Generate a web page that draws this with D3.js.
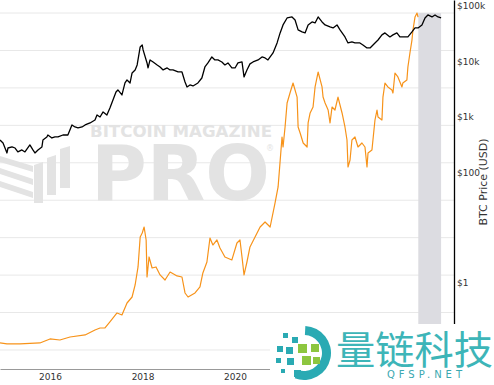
<!DOCTYPE html>
<meta charset="utf-8">

<!-- Load d3.js -->
<script src="https://d3js.org/d3.v7.min.js"></script>
<style>
  body { margin: 0; background: #fff; }
</style>

<div id="my_dataviz"></div>

<script>

// BTC price, USD (black line, right axis)
var btcDates = ["2014-12-02","2014-12-26","2015-01-26","2015-02-03","2015-03-07","2015-03-31","2015-04-22","2015-05-24","2015-06-17","2015-07-26","2015-08-19","2015-09-04","2015-09-28","2015-10-29","2015-11-06","2015-12-07","2015-12-15",
  "2016-01-16","2016-02-09","2016-03-04","2016-04-12","2016-05-21","2016-06-22","2016-07-16","2016-08-09","2016-09-10","2016-10-04","2016-11-12","2016-12-21",
  "2017-01-06","2017-01-30","2017-02-23","2017-03-25","2017-04-18","2017-05-12","2017-06-05","2017-06-20","2017-07-22","2017-08-15","2017-08-31","2017-09-24","2017-10-10","2017-11-03","2017-11-19","2017-12-13","2017-12-29",
  "2018-01-05","2018-02-05","2018-02-13","2018-03-01","2018-03-25","2018-04-26","2018-05-19","2018-06-12","2018-07-14","2018-08-06","2018-08-29","2018-10-08","2018-11-08","2018-12-02","2018-12-18",
  "2019-01-10","2019-02-03","2019-03-14","2019-04-14","2019-05-08","2019-06-01","2019-07-02","2019-07-26","2019-08-19","2019-09-19","2019-10-13","2019-11-06","2019-12-07",
  "2020-01-01","2020-01-24","2020-02-25","2020-03-12","2020-04-04","2020-04-28","2020-05-22","2020-07-01","2020-08-01","2020-08-25","2020-09-17","2020-10-27","2020-11-28","2020-12-22",
  "2021-01-14","2021-02-15","2021-03-26","2021-04-19","2021-05-13","2021-06-13","2021-07-07","2021-07-31","2021-08-31","2021-09-24","2021-10-18","2021-11-18","2021-12-12",
  "2022-01-20","2022-02-13","2022-03-16","2022-04-09","2022-05-18","2022-06-11","2022-07-12","2022-08-05","2022-09-13","2022-10-07","2022-11-08","2022-12-02",
  "2023-01-10","2023-02-03","2023-03-06","2023-03-30","2023-05-08","2023-06-01","2023-07-02","2023-07-26","2023-08-18","2023-09-27","2023-10-29","2023-11-22","2023-12-16",
  "2024-01-16","2024-02-09","2024-03-03","2024-04-04","2024-04-28","2024-05-22","2024-06-15"];
var btcPrices = [381,336,222,273,285,273,232,252,232,310,252,222,252,285,381,432,469,
  414,432,432,469,469,711,654,628,654,711,773,875,
  1077,991,1222,1077,1442,2010,2805,3048,2476,4074,4613,4074,6180,7000,8610,18200,19770,
  16070,9360,7600,10600,9750,8610,7920,7000,7600,7000,7000,6440,6440,4250,3450,
  3750,3600,4074,5010,7920,9360,12000,10600,10600,9750,8610,9360,7600,
  7600,9360,9750,5230,7000,9000,9750,10600,12000,11520,10600,14180,21500,32600,
  45400,60700,63300,55900,36900,34000,32600,45400,51400,49300,63300,51400,45400,
  41800,40100,45400,36900,27600,21500,22400,21500,21500,19770,17450,17450,
  21500,24300,30000,32600,27600,30000,32600,27600,27600,27600,34000,40100,40100,
  45400,60700,68800,63300,68800,63300,60700];

// orange series on the hidden left (log) axis
var metricDates = ["2014-12-02","2015-01-26","2015-05-08","2015-10-13","2016-01-01","2016-03-19","2016-06-07","2016-10-04","2016-12-21",
  "2017-01-30","2017-03-10","2017-04-18","2017-06-13","2017-07-22","2017-08-31","2017-10-10","2017-11-03","2017-11-26","2017-12-13","2017-12-29",
  "2018-01-13","2018-01-29","2018-02-05","2018-02-21","2018-03-17","2018-04-17","2018-05-19","2018-06-27","2018-08-06","2018-09-30","2018-11-08","2018-12-02","2018-12-26",
  "2019-02-19","2019-03-30","2019-04-22","2019-05-24","2019-06-17","2019-07-10","2019-08-11","2019-09-04","2019-10-13","2019-12-07",
  "2020-01-16","2020-02-09","2020-02-25","2020-03-12","2020-04-04","2020-04-28","2020-07-17","2020-08-25","2020-10-04","2020-11-12","2020-12-06",
  "2021-01-06","2021-01-14","2021-01-30","2021-02-15","2021-03-10","2021-04-03","2021-05-05","2021-05-13","2021-05-29","2021-06-22","2021-07-23","2021-07-31","2021-08-16","2021-09-08","2021-09-24","2021-10-18","2021-11-18","2021-11-26","2021-12-12",
  "2022-01-05","2022-01-20","2022-02-05","2022-02-28","2022-03-24","2022-04-25","2022-05-18","2022-06-03","2022-06-11","2022-06-27","2022-07-12","2022-08-05","2022-08-29","2022-09-29","2022-10-23","2022-11-08","2022-11-16","2022-12-17","2022-12-25",
  "2023-01-10","2023-01-26","2023-02-03","2023-03-06","2023-03-14","2023-03-30","2023-04-22","2023-05-24","2023-06-01","2023-06-17","2023-07-10","2023-08-11","2023-08-18","2023-09-19","2023-09-27","2023-10-13","2023-10-29","2023-11-06","2023-11-22","2023-12-08","2023-12-16"];
var metricValues = [1.54,1.45,1.45,1.54,1.97,1.85,2.22,2.52,3.42,
  3.87,3.87,5.6,9.73,8.61,18,26,54.5,165,1042,1334,
  1928,867,89,305,155,165,101,74,121,95,89,33.3,26,
  33.3,48.2,114,224,980,637,867,530,305,254,
  721,867,305,101,224,564,1928,2624,1928,8440,22600,
  489000,264000,904000,3.96e6,7.3e6,1.35e7,5.7e6,904000,625000,338000,264000,1.16e6,2.14e6,3.09e6,1.06e7,2.66e7,1.06e7,5.7e6,3.96e6,
  2.57e6,1.16e6,3.09e6,2.57e6,5.7e6,2.14e6,904000,406000,77200,119000,406000,489000,264000,338000,264000,77200,183000,220000,406000,
  1.39e6,2.57e6,1.67e6,1.39e6,5.7e6,1.35e7,1.06e7,8.8e6,7.3e6,2.5e7,1.96e7,1.06e7,1.35e7,1.63e7,3.62e7,8.57e7,1.9e8,3.52e8,7.8e8,1.0e9,7.8e8];

var xDomain = ["2014-12-02", "2024-09-25"];
// 2022 and 2024 sit under the site logo in the original, so only these show
var xTickYears = [2016, 2018, 2020];
var priceDomain = [0.0269, 128000];
var priceTicks = [1, 100, 1000, 10000, 100000];
var priceTickLabels = ["$1", "$100", "$1k", "$10k", "$100k"];
var metricDomain = [0.292, 2.23e9];
var metricGrid = [1, 10, 100, 1e3, 1e4, 1e5, 1e6, 1e7, 1e8, 1e9];
var shade = ["2023-12-18", "2024-06-15"];

// set the dimensions and margins of the graph
var margin = {top: 0, right: 40, bottom: 15, left: 0},
    width = 494 - margin.left - margin.right,
    height = 385 - margin.top - margin.bottom;

var root = d3.select("#my_dataviz")
  .append("svg")
    .attr("width", 494)
    .attr("height", 385)
    .style("display", "block");

var svg = root.append("g")
    .attr("transform", "translate(" + margin.left + "," + margin.top + ")");

var parse = d3.timeParse("%Y-%m-%d");

var x = d3.scaleTime()
  .domain(xDomain.map(parse))
  .range([0, width]);

var yPrice = d3.scaleLog()
  .domain(priceDomain)
  .range([height, 0]);

var yMetric = d3.scaleLog()
  .domain(metricDomain)
  .range([height, 0]);

// gridlines (from the hidden left axis)
svg.append("g")
  .selectAll("line")
  .data(metricGrid)
  .enter()
  .append("line")
    .attr("x1", 0)
    .attr("x2", width)
    .attr("y1", function(d) { return yMetric(d); })
    .attr("y2", function(d) { return yMetric(d); })
    .attr("stroke", "#e8e8e8")
    .attr("stroke-width", 1);

// shaded period
svg.append("rect")
  .attr("x", x(parse(shade[0])))
  .attr("width", x(parse(shade[1])) - x(parse(shade[0])))
  .attr("y", yMetric(1e9))
  .attr("height", height - yMetric(1e9))
  .attr("fill", "#dcdce1");

// watermark
var wm = svg.append("g").attr("fill", "#e3e3e3");
wm.append("text")
  .attr("x", 90).attr("y", 137)
  .attr("font-family", "DejaVu Sans")
  .attr("font-weight", "bold")
  .attr("font-size", 15)
  .attr("textLength", 182)
  .attr("lengthAdjust", "spacingAndGlyphs")
  .text("BITCOIN MAGAZINE");
wm.append("text")
  .attr("x", 91).attr("y", 200)
  .attr("font-family", "DejaVu Sans")
  .attr("font-weight", "bold")
  .attr("font-size", 76)
  .attr("textLength", 179)
  .attr("lengthAdjust", "spacingAndGlyphs")
  .text("PRO");
wm.append("text")
  .attr("x", 266).attr("y", 151)
  .attr("font-family", "DejaVu Sans")
  .attr("font-size", 8)
  .text("®");
var marks = [
  "0,156 33,166 33,172 0,162",
  "0,168 33,179 33,185 0,174",
  "0,181 33,192 33,198 0,187",
  "34,165 43,162 43,203 34,203",
  "47,158 56,155 56,195 47,195",
  "60,149 70,146 70,188 60,188"
];
wm.selectAll("polygon")
  .data(marks)
  .enter()
  .append("polygon")
    .attr("points", function(d) { return d; });

// orange series
var metricLine = d3.line()
  .x(function(d) { return x(d.date); })
  .y(function(d) { return yMetric(d.value); });

var metricData = metricDates.map(function(d, i) {
  return {date: parse(d), value: metricValues[i]};
});

svg.append("path")
  .datum(metricData)
  .attr("fill", "none")
  .attr("stroke", "#f7931a")
  .attr("stroke-width", 1.2)
  .attr("stroke-linejoin", "round")
  .attr("d", metricLine);

// BTC price
var priceLine = d3.line()
  .x(function(d) { return x(d.date); })
  .y(function(d) { return yPrice(d.value); });

var priceData = btcDates.map(function(d, i) {
  return {date: parse(d), value: btcPrices[i]};
});

svg.append("path")
  .datum(priceData)
  .attr("fill", "none")
  .attr("stroke", "#000")
  .attr("stroke-width", 1.3)
  .attr("stroke-linejoin", "round")
  .attr("d", priceLine);

// X axis
var xAxis = svg.append("g")
  .attr("transform", "translate(0," + (height - 1) + ")")
  .call(d3.axisBottom(x)
    .tickValues(xTickYears.map(function(y) { return new Date(y, 0, 1); }))
    .tickFormat(d3.timeFormat("%Y"))
    .tickSize(0)
    .tickPadding(5));
xAxis.select(".domain").attr("stroke", "#999");
xAxis.selectAll("text")
  .attr("font-family", "DejaVu Sans")
  .attr("font-size", 9)
  .attr("fill", "#333");

// right axis
var yAxis = svg.append("g")
  .attr("transform", "translate(" + width + ",0)")
  .call(d3.axisRight(yPrice)
    .tickValues(priceTicks)
    .tickFormat(function(d, i) { return priceTickLabels[i]; })
    .tickSize(0)
    .tickPadding(3));
yAxis.select(".domain").attr("stroke", "#000").attr("stroke-width", 1.3);
yAxis.selectAll("text")
  .attr("font-family", "DejaVu Sans")
  .attr("font-size", 9)
  .attr("fill", "#333");

// text label for the right axis
svg.append("text")
  .attr("transform", "translate(" + (width + 33) + "," + 182 + ") rotate(-90)")
  .style("text-anchor", "middle")
  .attr("font-family", "DejaVu Sans")
  .attr("font-size", 11)
  .attr("fill", "#333")
  .text("BTC Price (USD)");

// site logo, bottom right
var logo = root.append("g");
logo.append("rect")
  .attr("x", 270).attr("y", 324)
  .attr("width", 224).attr("height", 61)
  .attr("fill", "#fff");
logo.append("path")
  .attr("transform", "translate(304,353)")
  .attr("d", d3.arc().innerRadius(18).outerRadius(27).startAngle(0.05).endAngle(Math.PI + 0.35)())
  .attr("fill", "#2aaab3");
var squares = [
  [283, 333, 5, "#2aaab3"], [292, 337, 6, "#2aaab3"], [277, 346, 6, "#2aaab3"], [286, 347, 7, "#2aaab3"],
  [276, 358, 5, "#2aaab3"], [287, 358, 7, "#2aaab3"], [281, 369, 4, "#2aaab3"], [294, 370, 7, "#2aaab3"],
  [298, 344, 9, "#8dc63f"], [311, 344, 8, "#8dc63f"], [302, 356, 9, "#8dc63f"], [313, 357, 7, "#8dc63f"]
];
logo.selectAll("rect.sq")
  .data(squares)
  .enter()
  .append("rect")
    .attr("class", "sq")
    .attr("x", function(d) { return d[0]; })
    .attr("y", function(d) { return d[1]; })
    .attr("width", function(d) { return d[2]; })
    .attr("height", function(d) { return d[2]; })
    .attr("fill", function(d) { return d[3]; });
logo.append("text")
  .attr("x", 336).attr("y", 364)
  .attr("font-family", "Noto Sans CJK SC")
  .attr("font-size", 39)
  .attr("textLength", 157)
  .attr("lengthAdjust", "spacingAndGlyphs")
  .attr("fill", "#3db5b8")
  .text("量链科技");
logo.append("text")
  .attr("x", 387).attr("y", 378)
  .attr("font-family", "DejaVu Sans")
  .attr("font-size", 10)
  .attr("textLength", 75)
  .attr("fill", "#3aa8b0")
  .text("QFSP.NET");

</script>
